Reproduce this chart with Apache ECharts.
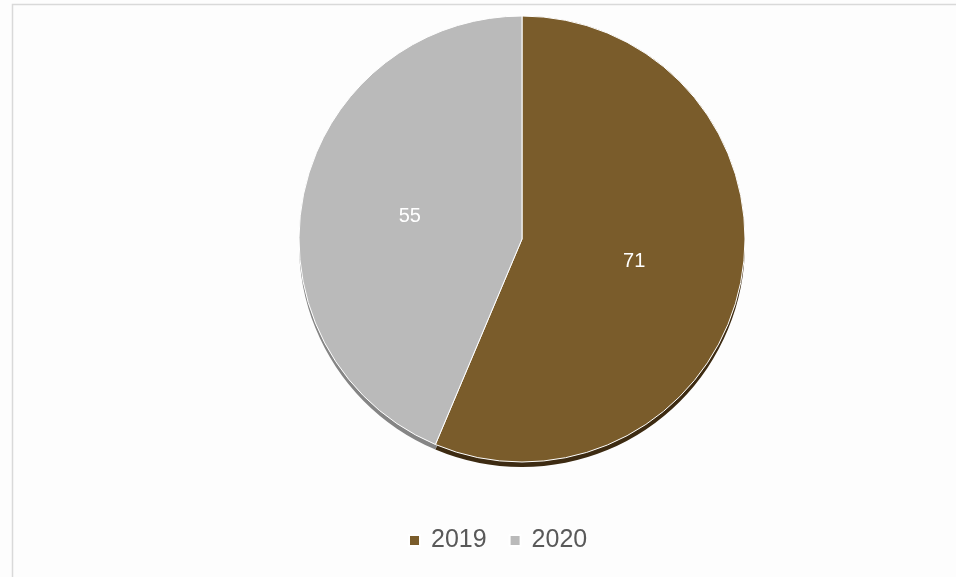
<!DOCTYPE html>
<html>
<head>
<meta charset="utf-8">
<script src="https://cdn.jsdelivr.net/npm/echarts@6/dist/echarts.min.js"></script>
<style>
html,body{margin:0;padding:0;background:#fdfdfd;}
#chart{width:956px;height:577px;}
</style>
</head>
<body>
<div id="chart"></div>
<script>
const categories = ['2019', '2020'];
const values = [71, 55];
const topColors = ['#7a5c2b', '#bababa'];
const sideColors = ['#3d2b12', '#858585'];

const chart = echarts.init(document.getElementById('chart'), null, {renderer: 'canvas'});
const topData = categories.map((c, i) => ({name: c, value: values[i], itemStyle: {color: topColors[i]}}));
const sideData = categories.map((c, i) => ({name: c, value: values[i], itemStyle: {color: sideColors[i]}}));

chart.setOption({
  backgroundColor: '#fdfdfd',
  animation: false,
  graphic: [{
    type: 'rect',
    shape: {x: 12.5, y: 4.5, width: 1000, height: 700},
    style: {fill: 'none', stroke: '#d9d9d9', lineWidth: 1.5},
    silent: true, z: 0
  }],
  legend: {
    data: categories,
    left: 403,
    top: 523,
    icon: 'rect',
    itemWidth: 11,
    itemHeight: 11,
    itemGap: 22,
    textStyle: {fontSize: 25, color: '#595959', fontFamily: 'Liberation Sans, Arial, sans-serif', padding: [0, 0, 0, 6]}
  },
  series: [
    {
      type: 'pie',
      z: 3,
      center: [522, 239],
      radius: 223,
      startAngle: 90,
      clockwise: true,
      data: topData,
      itemStyle: {borderColor: '#ffffff', borderWidth: 1},
      label: {
        show: true,
        position: 'inside',
        formatter: '{c}',
        color: '#ffffff',
        fontSize: 20,
        fontFamily: 'Liberation Sans, Arial, sans-serif'
      },
      labelLine: {show: false},
      emphasis: {disabled: true}
    },
    {
      type: 'pie',
      z: 1,
      silent: true,
      center: [522, 244],
      radius: 223,
      startAngle: 90,
      clockwise: true,
      data: sideData,
      label: {show: false},
      labelLine: {show: false},
      emphasis: {disabled: true}
    }
  ]
});
</script>
</body>
</html>
